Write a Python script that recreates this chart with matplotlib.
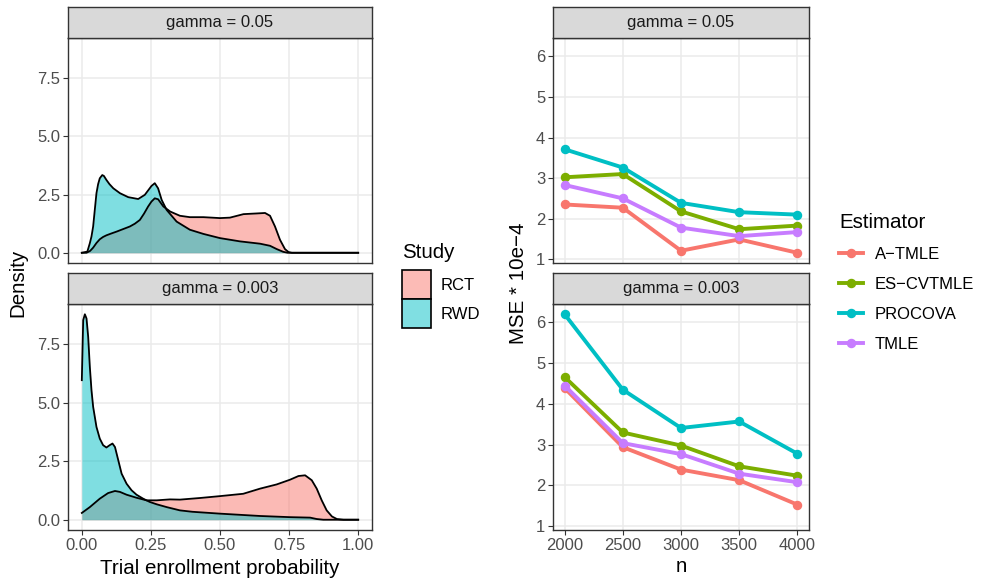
import matplotlib
matplotlib.use("Agg")
import matplotlib.pyplot as plt
from matplotlib.patches import Patch
from matplotlib.lines import Line2D

plt.rcParams["font.family"] = ["Liberation Sans", "DejaVu Sans"]

# ---- density data ----
gammas = ["gamma = 0.05", "gamma = 0.003"]
studies = ["RCT", "RWD"]

top_rct_x = [0, 0.017, 0.03, 0.041, 0.053, 0.065, 0.077, 0.089, 0.107, 0.126, 0.15, 0.174, 0.192,
             0.21, 0.225, 0.24, 0.252, 0.264, 0.276, 0.295, 0.32, 0.355, 0.391, 0.44, 0.5, 0.536,
             0.585, 0.633, 0.663, 0.681, 0.699, 0.717, 0.735, 0.748, 0.76, 1.0]
top_rct_y = [0, 0.0, 0.08, 0.22, 0.42, 0.58, 0.68, 0.75, 0.83, 0.91, 1.02, 1.13, 1.25,
             1.41, 1.68, 1.99, 2.2, 2.34, 2.3, 1.99, 1.77, 1.59, 1.53, 1.53, 1.49, 1.51,
             1.66, 1.69, 1.71, 1.59, 1.13, 0.56, 0.16, 0.03, 0, 0]

top_rwd_x = [0, 0.02, 0.029, 0.035, 0.041, 0.047, 0.053, 0.059, 0.065, 0.074, 0.08, 0.089, 0.1,
             0.114, 0.138, 0.168, 0.204, 0.228, 0.252, 0.264, 0.276, 0.289, 0.307, 0.343, 0.391,
             0.44, 0.5, 0.572, 0.645, 0.681, 0.705, 0.729, 0.745, 1.0]
top_rwd_y = [0, 0.05, 0.41, 0.7, 1.13, 1.85, 2.56, 2.95, 3.2, 3.34, 3.3, 3.13, 2.95,
             2.77, 2.56, 2.39, 2.31, 2.49, 2.87, 2.99, 2.77, 2.27, 1.84, 1.34, 0.99,
             0.81, 0.63, 0.49, 0.39, 0.30, 0.16, 0.04, 0, 0]

bot_rct_x = [0, 0.029, 0.065, 0.095, 0.12, 0.138, 0.162, 0.198, 0.234, 0.271, 0.319, 0.355,
             0.428, 0.5, 0.584, 0.645, 0.705, 0.753, 0.784, 0.808, 0.832, 0.85, 0.868, 0.886,
             0.905, 0.923, 0.947, 1.0]
bot_rct_y = [0.29, 0.54, 0.9, 1.14, 1.23, 1.19, 1.07, 0.94, 0.83, 0.83, 0.87, 0.86,
             0.93, 1.01, 1.11, 1.33, 1.51, 1.71, 1.87, 1.9, 1.69, 1.33, 0.83, 0.4,
             0.14, 0.03, 0, 0]

bot_rwd_x = [0, 0.005, 0.011, 0.017, 0.023, 0.029, 0.035, 0.041, 0.047, 0.053, 0.065, 0.077,
             0.089, 0.101, 0.111, 0.12, 0.132, 0.144, 0.162, 0.18, 0.198, 0.222, 0.246, 0.271,
             0.307, 0.355, 0.4, 0.5, 0.645, 0.753, 0.826, 0.85, 0.874, 1.0]
bot_rwd_y = [5.97, 8.54, 8.79, 8.61, 7.83, 6.54, 5.54, 4.83, 4.4, 3.97, 3.47, 3.19,
             3.09, 3.19, 3.26, 3.11, 2.54, 1.97, 1.54, 1.26, 1.07, 0.9, 0.76, 0.66,
             0.54, 0.4, 0.34, 0.26, 0.16, 0.11, 0.09, 0.03, 0, 0]

# ---- MSE data ----
n_vals = [2000, 2500, 3000, 3500, 4000]
estimators = ["A\u2212TMLE", "ES\u2212CVTMLE", "PROCOVA", "TMLE"]
mse_g005 = {
    "A\u2212TMLE": [2.35, 2.27, 1.21, 1.49, 1.16],
    "ES\u2212CVTMLE": [3.02, 3.10, 2.18, 1.74, 1.83],
    "PROCOVA": [3.71, 3.26, 2.39, 2.16, 2.10],
    "TMLE": [2.83, 2.50, 1.78, 1.57, 1.67],
}
mse_g0003 = {
    "A\u2212TMLE": [4.39, 2.94, 2.39, 2.13, 1.53],
    "ES\u2212CVTMLE": [4.66, 3.30, 2.98, 2.47, 2.24],
    "PROCOVA": [6.20, 4.35, 3.41, 3.57, 2.78],
    "TMLE": [4.45, 3.04, 2.77, 2.29, 2.08],
}

study_cols = {"RCT": "#F8766D", "RWD": "#00BFC4"}
est_cols = {"A\u2212TMLE": "#F8766D", "ES\u2212CVTMLE": "#7CAE00",
            "PROCOVA": "#00BFC4", "TMLE": "#C77CFF"}

W, H = 982, 581
fig = plt.figure(figsize=(W / 100, H / 100), dpi=100)


def rect(x0, y0, x1, y1):
    return [x0 / W, 1 - y1 / H, (x1 - x0) / W, (y1 - y0) / H]


TICK = "#4D4D4D"
BORDER = "#333333"
FS = 12


def style_panel(ax, show_x):
    ax.set_facecolor("white")
    for s in ax.spines.values():
        s.set_color(BORDER)
        s.set_linewidth(1.0)
    ax.grid(True, color="#EBEBEB", linewidth=1.1)
    ax.set_axisbelow(True)
    ax.tick_params(direction="out", length=3.5, width=0.8, color=BORDER,
                   labelcolor=TICK, labelsize=FS, pad=2)
    if not show_x:
        ax.tick_params(axis="x", length=0, labelbottom=False)


def strip(x0, x1, y0, y1, label):
    s = fig.add_axes(rect(x0, y0, x1, y1))
    s.set_facecolor("#D9D9D9")
    s.set_xticks([])
    s.set_yticks([])
    for sp in s.spines.values():
        sp.set_color(BORDER)
        sp.set_linewidth(1.0)
    s.text(0.5, 0.5, label, ha="center", va="center", fontsize=FS, color="#1A1A1A")


rows = [(38, 263, 7), (304, 530, 273)]
dens = [
    {"RCT": (top_rct_x, top_rct_y), "RWD": (top_rwd_x, top_rwd_y)},
    {"RCT": (bot_rct_x, bot_rct_y), "RWD": (bot_rwd_x, bot_rwd_y)},
]
mse = [mse_g005, mse_g0003]

dmax = max(max(top_rct_y), max(top_rwd_y), max(bot_rct_y), max(bot_rwd_y))
all_mse = [v for d in mse for vals in d.values() for v in vals]
mlo, mhi = min(all_mse), max(all_mse)
mpad = 0.05 * (mhi - mlo)

for i, (py0, py1, sy0) in enumerate(rows):
    # density panel
    ax = fig.add_axes(rect(68, py0, 372, py1))
    for st in studies:
        xs, ys = dens[i][st]
        ax.fill_between(xs, ys, 0, color=study_cols[st], alpha=0.5, linewidth=0)
        ax.plot(xs, ys, color="black", linewidth=1.3)
    ax.set_xlim(-0.05, 1.05)
    ax.set_ylim(-0.05 * dmax, 1.05 * dmax)
    ax.set_xticks([0, 0.25, 0.5, 0.75, 1.0])
    ax.set_xticklabels(["0.00", "0.25", "0.50", "0.75", "1.00"])
    ax.set_yticks([0, 2.5, 5.0, 7.5])
    ax.set_yticklabels(["0.0", "2.5", "5.0", "7.5"])
    style_panel(ax, i == 1)
    strip(68, 372, sy0, py0, gammas[i])

    # MSE panel
    ax2 = fig.add_axes(rect(553, py0, 809, py1))
    for est in estimators:
        ax2.plot(n_vals, mse[i][est], color=est_cols[est], linewidth=2.8,
                 marker="o", markersize=5.8)
    ax2.set_xlim(1900, 4100)
    ax2.set_ylim(mlo - mpad, mhi + mpad)
    ax2.set_xticks(n_vals)
    ax2.set_yticks([1, 2, 3, 4, 5, 6])
    style_panel(ax2, i == 1)
    strip(553, 809, sy0, py0, gammas[i])

TITLE_FS = 14.8
fig.text(18 / W, 1 - 283 / H, "Density", rotation=90, ha="center", va="center",
         fontsize=TITLE_FS)
fig.text(518 / W, 1 - 283 / H, "MSE * 10e\u22124", rotation=90, ha="center", va="center",
         fontsize=TITLE_FS)
fig.text(220 / W, 1 - 574 / H, "Trial enrollment probability", ha="center",
         va="baseline", fontsize=TITLE_FS)
fig.text(681 / W, 1 - 572 / H, "n", ha="center", va="baseline", fontsize=TITLE_FS)


# legends
def blend(hexc):
    r, g, b = (int(hexc[k:k + 2], 16) for k in (1, 3, 5))
    return ((r + 255) / 510, (g + 255) / 510, (b + 255) / 510)


study_handles = [Patch(facecolor=blend(study_cols[s]), edgecolor="black", linewidth=1.2)
                 for s in studies]
leg1 = fig.legend(study_handles, studies, title="Study", loc="upper left",
                  bbox_to_anchor=(402 / W, 1 - 243 / H), frameon=False, fontsize=FS,
                  title_fontsize=TITLE_FS, handlelength=1.72, handleheight=2.3,
                  labelspacing=0.0, handletextpad=0.6, borderpad=0, borderaxespad=0,
                  alignment="left")
leg1._legend_box.sep = 6

est_handles = [Line2D([], [], color=est_cols[e], linewidth=2.8, marker="o", markersize=5.8)
               for e in estimators]
leg2 = fig.legend(est_handles, estimators, title="Estimator", loc="upper left",
                  bbox_to_anchor=(839 / W, 1 - 213 / H), frameon=False, fontsize=FS,
                  title_fontsize=TITLE_FS, handlelength=1.44, numpoints=1,
                  labelspacing=0.9, handletextpad=0.72, borderpad=0, borderaxespad=0,
                  alignment="left")

fig.savefig("out.png", dpi=100)
